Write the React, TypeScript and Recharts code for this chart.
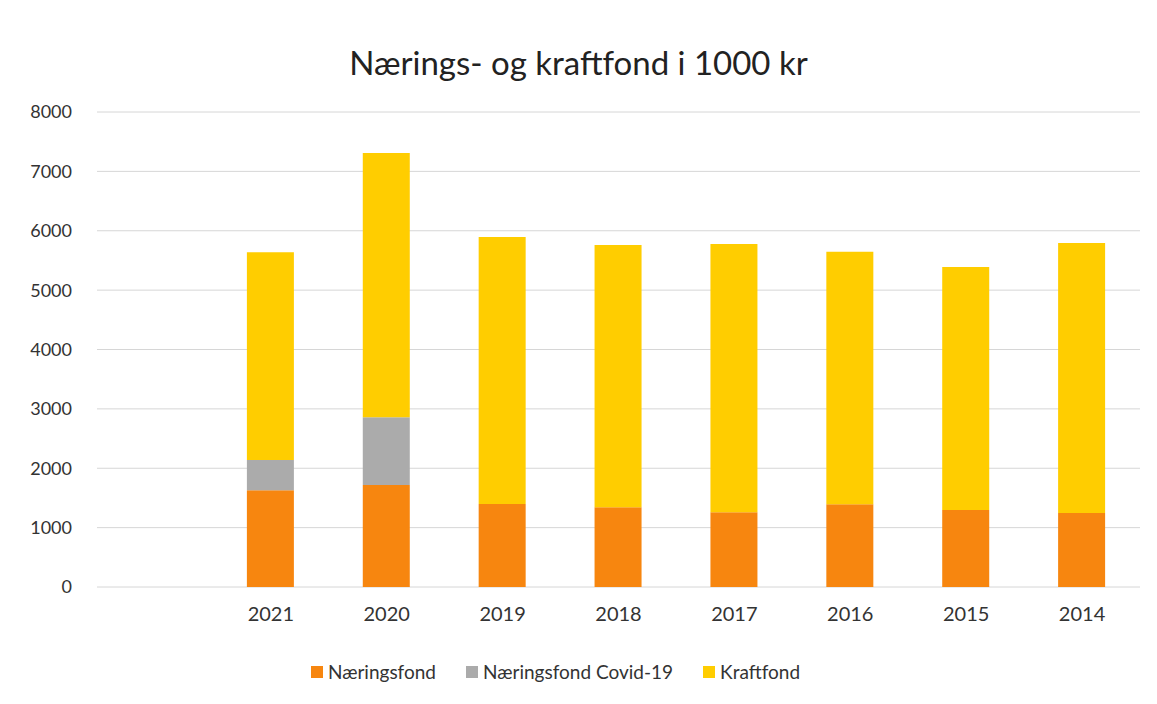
import { BarChart, Bar, XAxis, YAxis, CartesianGrid, Legend } from 'recharts';

// first slot is empty in the original chart
const years = ['', '2021', '2020', '2019', '2018', '2017', '2016', '2015', '2014'];
const naeringsfond = [null, 1630, 1720, 1400, 1345, 1260, 1395, 1295, 1245];
const covid = [null, 510, 1140, 0, 0, 0, 0, 0, 0];
const kraftfond = [null, 3500, 4450, 4495, 4415, 4515, 4250, 4095, 4550];
const yTicks = [0, 1000, 2000, 3000, 4000, 5000, 6000, 7000, 8000];

const series = [
  { key: 'naeringsfond', name: 'Næringsfond', color: '#F7860F' },
  { key: 'covid', name: 'Næringsfond Covid-19', color: '#ABABAB' },
  { key: 'kraftfond', name: 'Kraftfond', color: '#FFCD00' },
];

const data = years.map((year, i) => ({
  year,
  naeringsfond: naeringsfond[i],
  covid: covid[i],
  kraftfond: kraftfond[i],
}));

const font = 'Lato, "Open Sans", sans-serif';

const LegendBox = () => (
  <div style={{ display: 'flex', justifyContent: 'center', gap: 30, fontSize: 19, color: '#333', fontFamily: font, paddingRight: 46 }}>
    {series.map((s) => (
      <div key={s.key} style={{ display: 'flex', alignItems: 'center', gap: 5 }}>
        <span style={{ width: 12, height: 12, background: s.color, display: 'inline-block' }} />
        <span>{s.name}</span>
      </div>
    ))}
  </div>
);

export default function App() {
  return (
    <div style={{ position: 'absolute', left: 0, top: 0, width: 1157, height: 704, background: '#fff', fontFamily: font }}>
      <div style={{ position: 'absolute', top: 42, left: 0, width: 1157, textAlign: 'center', fontSize: 33, color: '#222' }}>
        Nærings- og kraftfond i 1000 kr
      </div>
      <BarChart
        width={1157}
        height={704}
        data={data}
        margin={{ top: 112, right: 17, bottom: 77, left: 0 }}
        barSize={47}
      >
        <CartesianGrid vertical={false} stroke="#d6d6d6" />
        <XAxis
          dataKey="year"
          axisLine={false}
          tickLine={false}
          height={40}
          tick={{ fill: '#333', fontSize: 20, fontFamily: font }}
          tickMargin={14}
        />
        <YAxis
          width={97}
          domain={[0, 8000]}
          ticks={yTicks}
          axisLine={false}
          tickLine={false}
          tick={{ fill: '#333', fontSize: 18, fontFamily: font }}
          tickMargin={19}
        />
        <Legend
          content={LegendBox}
          wrapperStyle={{ position: 'absolute', top: 660, left: 0, width: 1157, height: 0 }}
        />
        {series.map((s) => (
          <Bar key={s.key} dataKey={s.key} name={s.name} stackId="a" fill={s.color} isAnimationActive={false} />
        ))}
      </BarChart>
    </div>
  );
}
